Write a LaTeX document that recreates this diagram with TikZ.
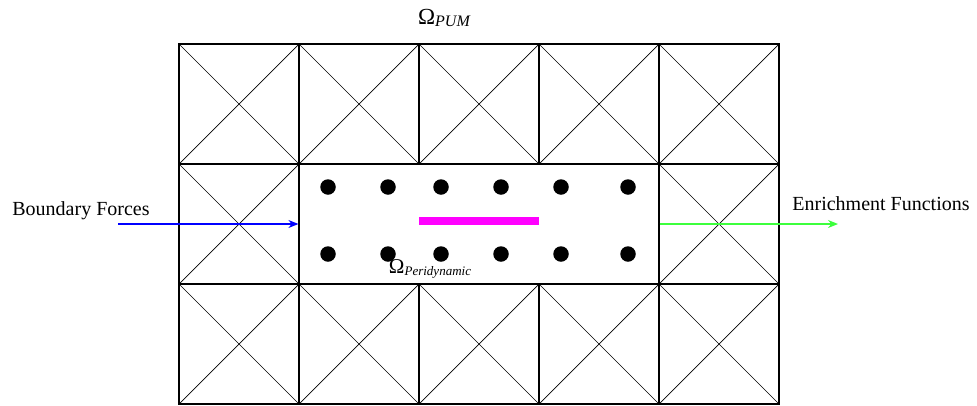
\documentclass[tikz,border=0pt]{standalone}
\usepackage{fontspec}
\setmainfont{Liberation Serif}
\usetikzlibrary{arrows.meta}
\definecolor{forceblue}{RGB}{0,0,255}
\definecolor{enrichgreen}{RGB}{60,255,60}
\definecolor{crackpink}{RGB}{255,0,255}
% Omega with an italic subscript, set as text
\newcommand{\domainname}[3]{{\fontsize{#1}{#1}\selectfont Ω\raisebox{-0.25\height}{\fontsize{#2}{#2}\selectfont\itshape #3}}}
\begin{document}
\begin{tikzpicture}[x=1pt,y=-1pt,
  gridline/.style={line width=1.2pt},
  diag/.style={line width=0.7pt},
  particle/.style={circle,fill=black,inner sep=0pt,minimum size=15.5pt},
  txt/.style={font=\fontsize{20}{24}\selectfont,inner sep=0pt},
  subdomain/.style={draw,gridline,minimum width=360pt,minimum height=120pt,inner sep=0pt},
  crackbar/.style={fill=crackpink,inner sep=0pt,minimum width=120pt,minimum height=8pt},
  flow/.style={line width=1.3pt,-{Stealth[length=10pt,width=8pt]}}]
\useasboundingbox (0,0) rectangle (977,405);

% PUM mesh: 5 x 3 cells with crossed diagonals, the centre three left open
\foreach \c/\r in {0/0,1/0,2/0,3/0,4/0,0/1,4/1,0/2,1/2,2/2,3/2,4/2}{
  \draw[gridline] (179+120*\c,44+120*\r) rectangle ++(120,120);
  \draw[diag] (179+120*\c,44+120*\r) -- ++(120,120);
  \draw[diag] (299+120*\c,44+120*\r) -- ++(-120,120);
}

% peridynamic subdomain
\node[subdomain] (pd) at (479,224) {};

% particles
\foreach \px in {328,388,441,501,561,628}{
  \node[particle] at (\px,187) {};
  \node[particle] at (\px,254) {};
}

% crack
\node[crackbar] (crack) at (479,221) {};

% labels
\node[inner sep=0pt] (pum) at (444,18) {\domainname{23}{16}{PUM}};
\node[inner sep=0pt] (pdlabel) at (430,269) {\domainname{21}{13}{Peridynamic}};
\node[txt] (bf) at (81,211) {Boundary Forces};
\node[txt] (ef) at (881,204) {Enrichment Functions};

% coupling arrows
\coordinate (bfstart) at (118,224);
\coordinate (efend) at (838,224);
\draw[flow,forceblue] (bfstart) -- (pd.west);
\draw[flow,enrichgreen] (pd.east) -- (efend);
\end{tikzpicture}
\end{document}
